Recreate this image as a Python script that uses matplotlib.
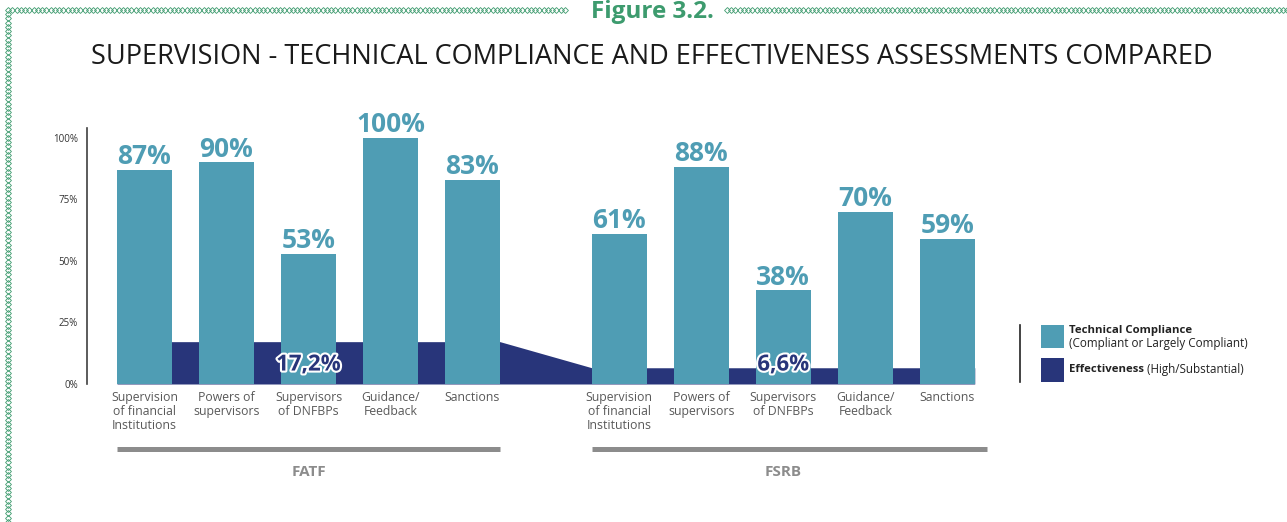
import matplotlib
matplotlib.use("Agg")
import matplotlib.pyplot as plt
import matplotlib.patheffects as pe
from matplotlib.lines import Line2D
from matplotlib.patches import Rectangle
import numpy as np

plt.rcParams['font.family'] = ['Open Sans', 'DejaVu Sans']

# data
categories = ["Supervision\nof financial\nInstitutions", "Powers of\nsupervisors",
              "Supervisors\nof DNFBPs", "Guidance/\nFeedback", "Sanctions"]
groups = ["FATF", "FSRB"]
tech_fatf = [87, 90, 53, 100, 83]
tech_fsrb = [61, 88, 38, 70, 59]
eff_fatf = 17.2
eff_fsrb = 6.6
yticks = [0, 25, 50, 75, 100]

teal = '#4f9db4'
navy = '#28357a'
green = '#3d9b6e'
grey_txt = '#595959'

W, H = 1287, 522
fig = plt.figure(figsize=(W / 100, H / 100), dpi=100)

def fx(px):
    return px / W

def fy(py):
    return 1 - py / H

# axes: x unit = 82 px, first bar centre at px 144.5; y 0 at px 384, 104 at px 128
ax = fig.add_axes([fx(87), fy(384), fx(1000 - 87), 256 / H])
ax.set_xlim((87 - 144.5) / 82, (1000 - 144.5) / 82)
ax.set_ylim(0, 104)

bw = 0.67
x_fatf = np.arange(len(categories))
x_fsrb = np.arange(len(categories)) + 5.79

# effectiveness area behind the bars
x_area = [x_fatf[0] - bw / 2, x_fatf[-1] + bw / 2, x_fsrb[0] - bw / 2, x_fsrb[-1] + bw / 2]
y_area = [eff_fatf, eff_fatf, eff_fsrb, eff_fsrb]
ax.fill_between(x_area, 0, y_area, color=navy, lw=0, zorder=1)

for xs, vals in [(x_fatf, tech_fatf), (x_fsrb, tech_fsrb)]:
    ax.bar(xs, vals, width=bw, color=teal, zorder=2)
    for x, v in zip(xs, vals):
        ax.text(x, v + 2.4, f"{v}%", ha='center', va='baseline', fontsize=19,
                fontweight='bold', color=teal, clip_on=False, zorder=3)
    for x, c in zip(xs, categories):
        ax.text(x, -3.0, c, ha='center', va='top', fontsize=8.8, color=grey_txt,
                linespacing=1.1, clip_on=False)

for xs, v in [(x_fatf, eff_fatf), (x_fsrb, eff_fsrb)]:
    ax.text(xs[2], 7.7, f"{v:.1f}".replace('.', ',') + "%", ha='center', va='center',
            fontsize=16, fontweight='bold', color=navy, zorder=4,
            path_effects=[pe.withStroke(linewidth=3, foreground='white')])

# group brackets
for xs, g, extra in [(x_fatf, groups[0], 0.0), (x_fsrb, groups[1], 0.15)]:
    ax.plot([xs[0] - bw / 2, xs[-1] + bw / 2 + extra], [-26.4, -26.4], color='#8c8c8c',
            lw=3.6, solid_capstyle='butt', clip_on=False)
    ax.text(xs[2], -35.8, g, ha='center', va='center', fontsize=11, fontweight='bold',
            color='#8c8c8c', clip_on=False)

ax.set_yticks(yticks)
ax.set_yticklabels([f"{t}%" for t in yticks], fontsize=7, color='#333333')
ax.tick_params(axis='y', length=0, pad=6.5)
ax.set_xticks([])
for s in ['top', 'right', 'bottom']:
    ax.spines[s].set_visible(False)
ax.spines['left'].set_color('#404040')
ax.spines['left'].set_linewidth(1.2)

# title and figure number
fig.text(fx(652), fy(57), "SUPERVISION - TECHNICAL COMPLIANCE AND EFFECTIVENESS ASSESSMENTS COMPARED",
         ha='center', va='center', fontsize=19.5, color='#1a1a1a')
fig.text(fx(652), fy(18), "Figure 3.2.", ha='center', va='baseline', fontsize=17.5,
         fontweight='bold', color=green)

# decorative chain border
def chain(x0, y0, x1, y1, step=4.2):
    n = int(np.hypot(x1 - x0, y1 - y0) / step)
    xs = np.linspace(x0, x1, n)
    ys = np.linspace(y0, y1, n)
    fig.add_artist(Line2D(fx(xs), fy(ys), transform=fig.transFigure, ls='none', marker='D',
                          markersize=3, mfc='none', mec=green, mew=0.6))

chain(8, 10, 565, 10)
chain(727, 10, 1287, 10)
chain(8, 14, 8, 522)

# legend
fig.add_artist(Line2D([fx(1020), fx(1020)], [fy(325), fy(382)], transform=fig.transFigure,
                      color='#222222', lw=1.2))
fig.add_artist(Rectangle((fx(1041), fy(348)), fx(23), 23 / H, transform=fig.transFigure,
                         color=teal, lw=0))
fig.add_artist(Rectangle((fx(1041), fy(382)), fx(23), 24 / H, transform=fig.transFigure,
                         color=navy, lw=0))
fig.text(fx(1069), fy(330), "Technical Compliance", fontsize=8.2, fontweight='bold',
         color='#222222', va='center')
fig.text(fx(1069), fy(343), "(Compliant or Largely Compliant)", fontsize=8.4,
         color='#222222', va='center')
t = fig.text(fx(1069), fy(370), "Effectiveness", fontsize=8.2, fontweight='bold',
             color='#222222', va='center')
fig.canvas.draw()
bb = t.get_window_extent(fig.canvas.get_renderer())
fig.text(bb.x1 / W, fy(370), " (High/Substantial)", fontsize=8.4, color='#222222', va='center')

fig.savefig('out.png', dpi=100)
